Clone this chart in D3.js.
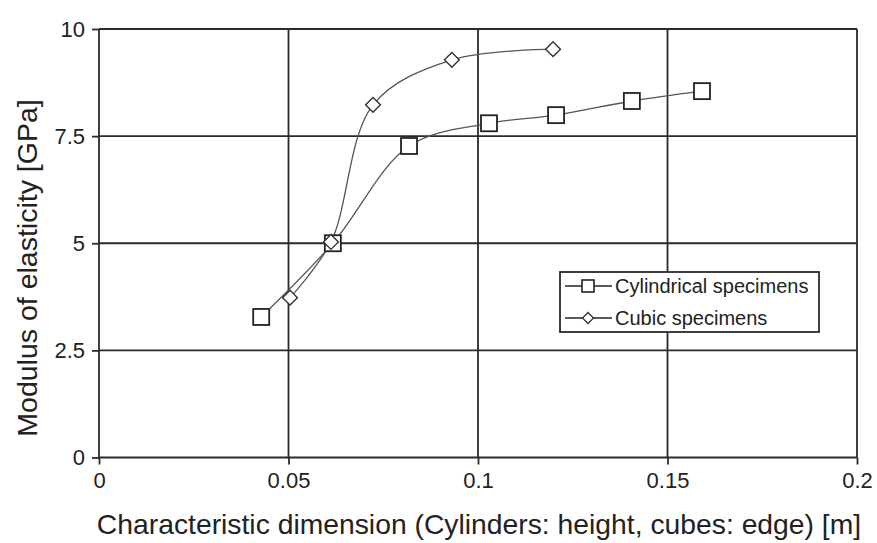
<!DOCTYPE html>
<html>
<head>
<meta charset="utf-8">
<script src="https://cdn.jsdelivr.net/npm/d3@7"></script>
<style>
  html, body { margin: 0; padding: 0; background: #fff; }
  svg { display: block; font-family: "Liberation Sans", Arial, sans-serif; }
</style>
</head>
<body>
<svg id="chart" width="877" height="543"></svg>
<script>
// Modulus of elasticity against characteristic specimen dimension
const cylDim   = [0.0428, 0.0617, 0.0818, 0.1029, 0.1206, 0.1406, 0.1591];
const cylMod   = [3.28, 5.0, 7.27, 7.80, 7.99, 8.32, 8.55];
const cubeDim  = [0.0504, 0.0612, 0.0723, 0.0931, 0.1198];
const cubeMod  = [3.73, 5.03, 8.23, 9.28, 9.53];
const xTicks   = [0, 0.05, 0.1, 0.15, 0.2];
const xTickLabels = ["0", "0.05", "0.1", "0.15", "0.2"];
const yTicks   = [0, 2.5, 5, 7.5, 10];
const yTickLabels = ["0", "2.5", "5", "7.5", "10"];
const seriesNames = ["Cylindrical specimens", "Cubic specimens"];

const svg = d3.select("#chart");

const x = d3.scaleLinear().domain([0, 0.2]).range([99, 857]);
const y = d3.scaleLinear().domain([0, 10]).range([457.5, 29]);

const ink = "#2a2a2a";

// grid
const g = svg.append("g");
g.selectAll(".vg").data(xTicks).join("line")
  .attr("x1", d => x(d)).attr("x2", d => x(d))
  .attr("y1", y(0)).attr("y2", y(10))
  .attr("stroke", ink).attr("stroke-width", 1.8);
g.selectAll(".hg").data(yTicks).join("line")
  .attr("x1", x(0)).attr("x2", x(0.2))
  .attr("y1", d => y(d)).attr("y2", d => y(d))
  .attr("stroke", ink).attr("stroke-width", 1.8);

// axes
const xAxis = d3.axisBottom(x).tickValues(xTicks)
  .tickFormat((d, i) => xTickLabels[i]).tickSize(7).tickPadding(8);
const yAxis = d3.axisLeft(y).tickValues(yTicks)
  .tickFormat((d, i) => yTickLabels[i]).tickSize(7).tickPadding(7);

const gx = svg.append("g").attr("transform", `translate(0,${y(0)})`).call(xAxis);
const gy = svg.append("g").attr("transform", `translate(${x(0)},0)`).call(yAxis);
[gx, gy].forEach(a => {
  a.select(".domain").remove();
  a.selectAll(".tick line").attr("stroke", ink).attr("stroke-width", 1.8);
  a.selectAll(".tick text").attr("fill", "#222").style("font-size", "22px");
});

// axis titles
svg.append("text")
  .attr("x", 479).attr("y", 534)
  .attr("text-anchor", "middle")
  .attr("fill", "#222").style("font-size", "28.3px")
  .text("Characteristic dimension (Cylinders: height, cubes: edge) [m]");
svg.append("text")
  .attr("transform", `translate(37,268) rotate(-90)`)
  .attr("text-anchor", "middle")
  .attr("fill", "#222").style("font-size", "28.5px")
  .text("Modulus of elasticity [GPa]");

// series
const line = d3.line().x(d => x(d[0])).y(d => y(d[1])).curve(d3.curveCatmullRom.alpha(0.5));
const cyl = cylDim.map((d, i) => [d, cylMod[i]]);
const cube = cubeDim.map((d, i) => [d, cubeMod[i]]);

svg.append("path").datum(cyl).attr("d", line)
  .attr("fill", "none").attr("stroke", "#555").attr("stroke-width", 1.3);
svg.append("path").datum(cube).attr("d", line)
  .attr("fill", "none").attr("stroke", "#555").attr("stroke-width", 1.3);

const sq = 16;
svg.selectAll(".sq").data(cyl).join("rect")
  .attr("x", d => x(d[0]) - sq / 2).attr("y", d => y(d[1]) - sq / 2)
  .attr("width", sq).attr("height", sq)
  .attr("fill", "#fff").attr("stroke", "#222").attr("stroke-width", 1.8);

svg.selectAll(".dm").data(cube).join("path")
  .attr("transform", d => `translate(${x(d[0])},${y(d[1])}) rotate(45)`)
  .attr("d", d3.symbol().type(d3.symbolSquare).size(110))
  .attr("fill", "#fff").attr("stroke", "#333").attr("stroke-width", 1.4);

// legend
const lg = svg.append("g");
lg.append("rect").attr("x", 560).attr("y", 272).attr("width", 259).attr("height", 60)
  .attr("fill", "#fff").attr("stroke", ink).attr("stroke-width", 1.8);
const rows = [286, 318];
rows.forEach((ry, i) => {
  lg.append("line").attr("x1", 565).attr("x2", 612).attr("y1", ry).attr("y2", ry)
    .attr("stroke", "#222").attr("stroke-width", 1.5);
  if (i === 0) {
    lg.append("rect").attr("x", 582).attr("y", ry - 6).attr("width", 12).attr("height", 12)
      .attr("fill", "#fff").attr("stroke", "#222").attr("stroke-width", 1.6);
  } else {
    lg.append("path").attr("transform", `translate(588,${ry}) rotate(45)`)
      .attr("d", d3.symbol().type(d3.symbolSquare).size(60))
      .attr("fill", "#fff").attr("stroke", "#333").attr("stroke-width", 1.3);
  }
  lg.append("text").attr("x", 615).attr("y", ry + 7)
    .attr("fill", "#222").style("font-size", "20px")
    .text(seriesNames[i]);
});
</script>
</body>
</html>
